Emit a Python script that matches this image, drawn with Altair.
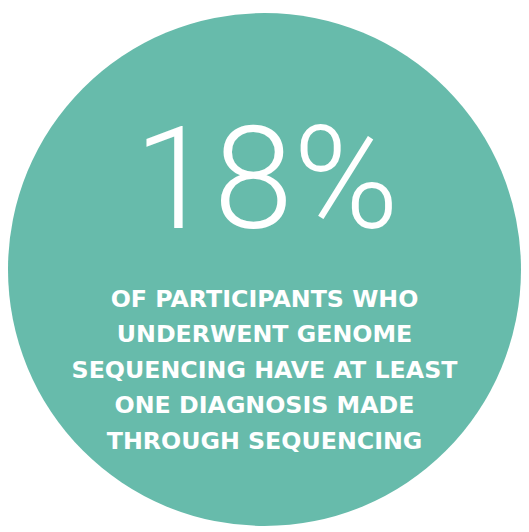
import altair as alt
import pandas as pd

big_label = ["18%"]
sub_lines = [
    "OF PARTICIPANTS WHO",
    "UNDERWENT GENOME",
    "SEQUENCING HAVE AT LEAST",
    "ONE DIAGNOSIS MADE",
    "THROUGH SEQUENCING",
]
circle_share = [1.0]

TEAL = "#67BBAB"
W, H = 519, 523

circle_df = pd.DataFrame({"share": circle_share})
big_df = pd.DataFrame({"label": big_label, "cx": [0]})
sub_df = pd.DataFrame({"label": sub_lines, "row": list(range(len(sub_lines))), "cx": 0})

xs = alt.Scale(domain=[-1, 1])

circle = alt.Chart(circle_df).mark_arc(radius=W / 2, color=TEAL, stroke=None).encode(
    theta=alt.Theta("share:Q")
)

big = alt.Chart(big_df).mark_text(
    font="Roboto", fontWeight=300, fontSize=145, color="white",
    align="center", baseline="alphabetic", dx=2
).encode(
    x=alt.X("cx:Q", scale=xs, axis=None),
    y=alt.value(220),
    text="label:N",
)

sub = alt.Chart(sub_df).mark_text(
    font="DejaVu Sans", fontWeight="bold", fontSize=24, color="white",
    align="center", baseline="alphabetic"
).encode(
    x=alt.X("cx:Q", scale=xs, axis=None),
    y=alt.Y("row:Q", scale=alt.Scale(domain=[0, 4], range=[299, 443]), axis=None),
    text="label:N",
)

chart = alt.layer(circle, big, sub).properties(
    width=W, height=H, autosize=alt.AutoSizeParams(type="none"), padding=0,
    background="white",
).configure_view(stroke=None)

chart.save("out.html", embed_options={"renderer": "svg", "actions": False})
